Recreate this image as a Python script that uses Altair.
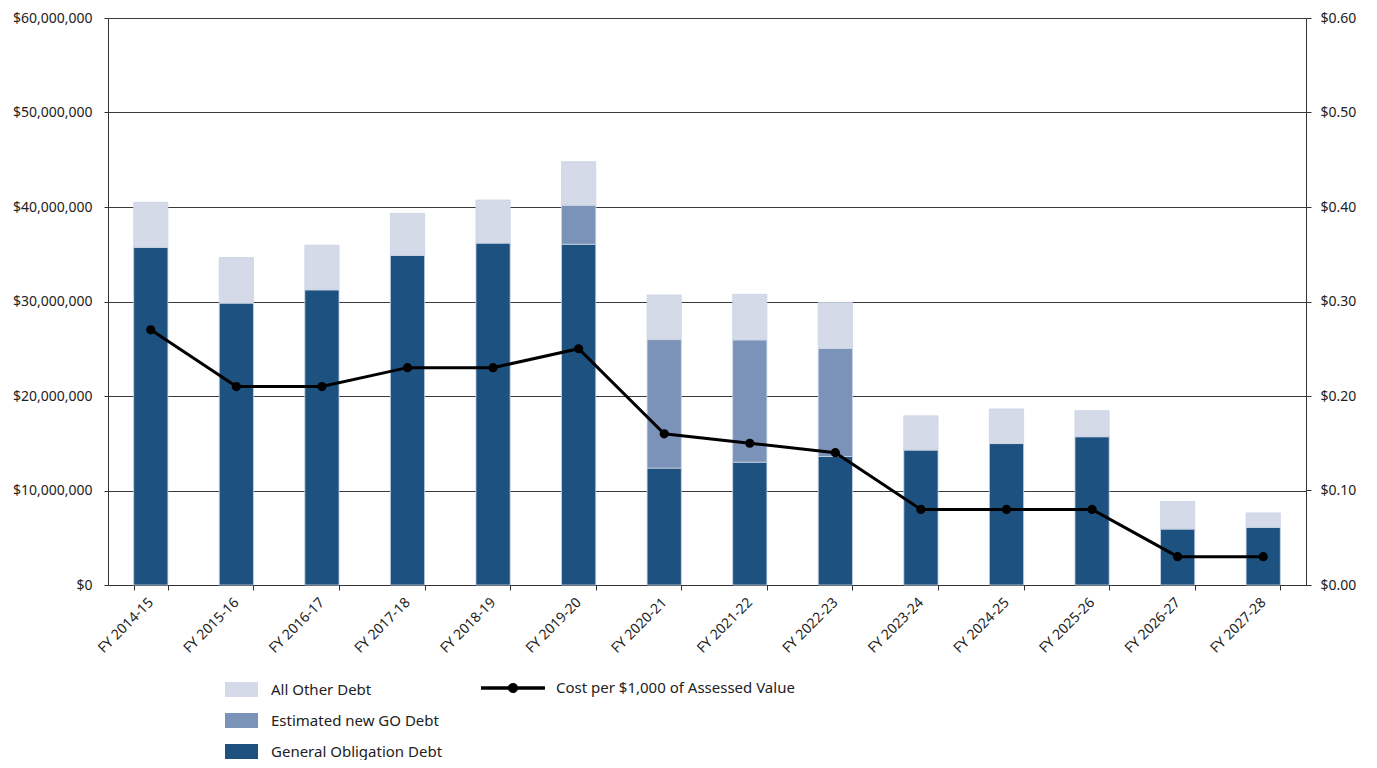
import altair as alt
import pandas as pd

years = ["FY 2014-15", "FY 2015-16", "FY 2016-17", "FY 2017-18", "FY 2018-19",
         "FY 2019-20", "FY 2020-21", "FY 2021-22", "FY 2022-23", "FY 2023-24",
         "FY 2024-25", "FY 2025-26", "FY 2026-27", "FY 2027-28"]
go_debt = [35750000, 29850000, 31250000, 34900000, 36200000, 36060000, 12370000,
           13000000, 13600000, 14300000, 14970000, 15700000, 5940000, 6120000]
new_go_debt = [0, 0, 0, 0, 0, 4120000, 13600000, 12940000, 11430000, 0, 0, 0, 0, 0]
other_debt = [4750000, 4800000, 4710000, 4430000, 4540000, 4620000, 4720000,
              4820000, 4870000, 3600000, 3660000, 2750000, 2890000, 1510000]
cost_per_1000 = [0.27, 0.21, 0.21, 0.23, 0.23, 0.25, 0.16, 0.15, 0.14, 0.08, 0.08, 0.08, 0.03, 0.03]

series_names = ["All Other Debt", "Estimated new GO Debt", "General Obligation Debt"]
series_colors = ["#d4dae8", "#7b93b8", "#1c5180"]
line_name = "Cost per $1,000 of Assessed Value"

rows = []
for i, y in enumerate(years):
    rows.append({"year": y, "series": "General Obligation Debt", "value": go_debt[i], "ord": 0})
    rows.append({"year": y, "series": "Estimated new GO Debt", "value": new_go_debt[i], "ord": 1})
    rows.append({"year": y, "series": "All Other Debt", "value": other_debt[i], "ord": 2})
bar_df = pd.DataFrame(rows)
line_df = pd.DataFrame({"year": years, "cost": cost_per_1000, "label": [line_name] * len(years)})

FONT = "Noto Sans"
AX = "#333333"
TXT = "#222222"

x_enc = alt.X("year:N", sort=years,
              scale=alt.Scale(paddingInner=0.6, paddingOuter=0.3),
              axis=alt.Axis(title=None, labelAngle=315, labelAlign="right", labelBaseline="middle",
                            tickBand="extent", tickSize=5, tickColor=AX, domainColor=AX,
                            labelFontSize=14, labelColor=TXT, labelFont=FONT,
                            labelPadding=10, labelLimit=0, grid=False))

rect_path = "M-1,-0.45H1V0.45H-1Z"
bars = alt.Chart(bar_df).mark_bar(stroke="#c9d4e4", strokeWidth=0.8).encode(
    x=x_enc,
    y=alt.Y("value:Q", stack="zero",
            scale=alt.Scale(domain=[0, 60000000], nice=False),
            axis=alt.Axis(title=None, format="$,.0f",
                          values=[0, 10000000, 20000000, 30000000, 40000000, 50000000, 60000000],
                          grid=True, gridColor="#3a3a3a", gridWidth=1, domainColor=AX, tickColor=AX,
                          tickSize=4, labelFontSize=14, labelColor=TXT, labelFont=FONT,
                          labelPadding=12, labelLimit=0)),
    color=alt.Color("series:N", scale=alt.Scale(domain=series_names, range=series_colors),
                    legend=alt.Legend(title=None, orient="none", legendX=117, legendY=655,
                                      direction="vertical", symbolType=rect_path, symbolSize=1089,
                                      symbolStrokeWidth=0, labelFontSize=15, labelFont=FONT,
                                      labelColor=TXT, labelOffset=13, rowPadding=6, labelLimit=0)),
    order=alt.Order("ord:Q", sort="ascending"),
)

line_y = alt.Y("cost:Q", scale=alt.Scale(domain=[0, 0.6], nice=False),
               axis=alt.Axis(title=None, orient="right", format="$.2f",
                             values=[0, 0.1, 0.2, 0.3, 0.4, 0.5, 0.6], grid=False,
                             domainColor=AX, tickColor=AX, tickSize=5, labelFontSize=14,
                             labelColor=TXT, labelFont=FONT, labelPadding=9))

line = alt.Chart(line_df).mark_line(color="black", strokeWidth=3).encode(
    x=alt.X("year:N", sort=years), y=line_y)

leg_path = ("M-1,-0.055H-0.12V0.055H-1Z M0.12,-0.055H1V0.055H0.12Z "
            "M-0.16,0A0.16,0.16,0,1,1,0.16,0A0.16,0.16,0,1,1,-0.16,0Z")
points = alt.Chart(line_df).mark_point(filled=True, size=85, opacity=1).encode(
    x=alt.X("year:N", sort=years), y=alt.Y("cost:Q"),
    fill=alt.Fill("label:N", scale=alt.Scale(range=["black"]),
                  legend=alt.Legend(title=None, orient="none", legendX=373, legendY=638,
                                    symbolType=leg_path, symbolSize=4096, symbolStrokeWidth=0,
                                    labelFontSize=15, labelFont=FONT, labelColor=TXT,
                                    labelOffset=11, labelLimit=0)),
)

right = alt.layer(line, points)

chart = alt.layer(bars, right).resolve_scale(y="independent").properties(
    width=1198, height=567,
    autosize=alt.AutoSizeParams(type="none"),
    padding={"left": 100, "top": 10, "right": 63, "bottom": 175},
).configure_view(stroke=None).configure(background="white")

chart.save("out.html", embed_options={"renderer": "svg", "actions": False})
